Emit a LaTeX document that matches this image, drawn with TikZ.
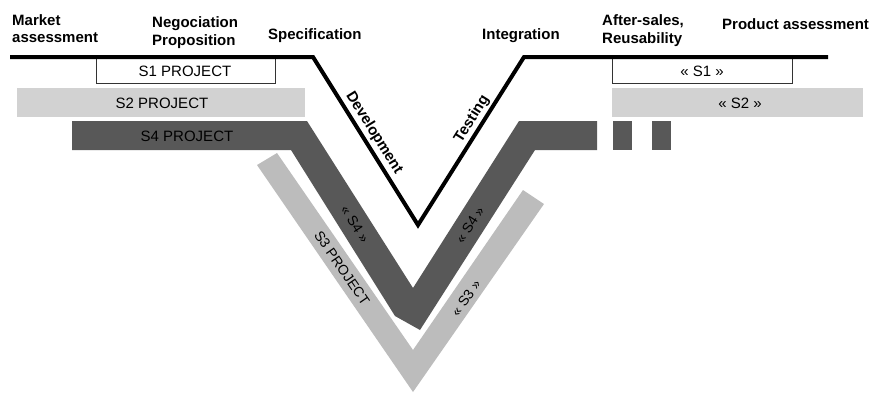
\documentclass[tikz,border=0pt]{standalone}
\usepackage{fontspec}
\setmainfont{Liberation Sans}
\definecolor{stwo}{RGB}{210,210,210}
\definecolor{sthree}{RGB}{188,188,188}
\definecolor{sfour}{RGB}{88,88,88}
\begin{document}
\begin{tikzpicture}[x=1pt,y=-1pt,
  title/.style={font=\bfseries\fontsize{15}{17}\selectfont, anchor=base west, inner sep=0pt},
  lab/.style={font=\fontsize{15}{17}\selectfont, inner sep=0pt},
  rlab/.style={font=\fontsize{14}{16}\selectfont, inner sep=0pt},
  vtext/.style={font=\bfseries\fontsize{15}{17}\selectfont, inner sep=0pt},
  vline/.style={line width=4pt, line join=miter, black},
  sonebox/.style={draw=black!80, line width=0.9pt, fill=white},
]
\useasboundingbox (0,0) rectangle (875,392);
% S3 band
\fill[sthree] (257,165) -- (277,153) -- (413,350) -- (523,190) -- (544,204) -- (413,392) -- cycle;
% S4 band
\fill[sfour] (72,121) -- (307,121) -- (413,288) -- (519,121) -- (597,121) -- (597,150)
  -- (535,150) -- (420,330) -- (395,316) -- (291,150) -- (72,150) -- cycle;
\fill[sfour] (613,121) rectangle (632,150);
\fill[sfour] (652,121) rectangle (671,150);
% S2 bands
\fill[stwo] (17,88) rectangle (305,117);
\fill[stwo] (612,88) rectangle (863,117);
% S1 boxes
\draw[sonebox] (96,58) rectangle (275,83);
\draw[sonebox] (612,58) rectangle (792,83);
% black V line
\coordinate (a) at (10,57);
\coordinate (b) at (313,57);
\coordinate (c) at (418,225);
\coordinate (d) at (524,57);
\coordinate (e) at (828,57);
\draw[vline] (a) -- (b) -- (c) -- (d) -- (e);
% titles
\node[title] (t1a) at (12,25) {Market};
\node[title] (t1b) at (12,42) {assessment};
\node[title] (t2a) at (152,27) {Negociation};
\node[title] (t2b) at (152,45) {Proposition};
\node[title] (t3) at (268,39) {Specification};
\node[title] (t4) at (482,39) {Integration};
\node[title] (t5a) at (602,25) {After-sales,};
\node[title] (t5b) at (602,43) {Reusability};
\node[title] (t6) at (722,29) {Product assessment};
% band labels
\node[lab] (l1) at (185,71) {S1 PROJECT};
\node[lab] (l1r) at (702,71) {« S1 »};
\node[lab] (l2) at (162,103) {S2 PROJECT};
\node[lab] (l2r) at (740,103) {« S2 »};
\node[lab] (l4) at (187,136) {S4 PROJECT};
\node[rlab, rotate=-57.5] (l4a) at (355,224) {« S4 »};
\node[rlab, rotate=57.5] (l4b) at (470,225) {« S4 »};
\node[rlab, rotate=-55.4] (l3a) at (342,268) {S3 PROJECT};
\node[rlab, rotate=55.4] (l3b) at (466,298) {« S3 »};
% V labels
\node[vtext, rotate=-58] (dev) at (374,133) {Development};
\node[vtext, rotate=58] (test) at (472,119) {Testing};
\end{tikzpicture}
\end{document}
